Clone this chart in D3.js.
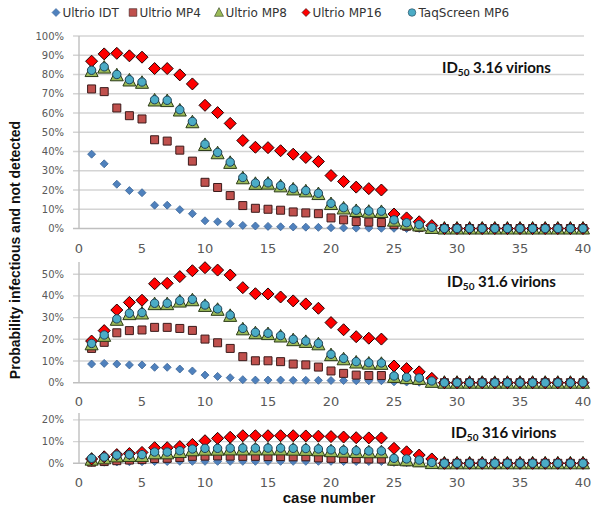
<!DOCTYPE html>
<html><head><meta charset="utf-8">
<script src="https://cdn.jsdelivr.net/npm/d3@7"></script>
<style>body{margin:0;background:#fff}</style></head>
<body><svg id="c" width="601" height="510"></svg>
<script>
const cases = [1,2,3,4,5,6,7,8,9,10,11,12,13,14,15,16,17,18,19,20,21,22,23,24,25,26,27,28,29,30,31,32,33,34,35,36,37,38,39,40];
const seriesNames = ["Ultrio IDT","Ultrio MP4","Ultrio MP8","Ultrio MP16","TaqScreen MP6"];
const xTicks = [0,5,10,15,20,25,30,35,40];
const panelLabels = ["3.16 virions","31.6 virions","316 virions"];
const yTicksA = [0,0.1,0.2,0.3,0.4,0.5,0.6,0.7,0.8,0.9,1.0];
const yTicksB = [0,0.1,0.2,0.3,0.4,0.5];
const yTicksC = [0,0.1,0.2];

// Panel A: ID50 3.16 virions
const IDT_A  = [0.386,0.336,0.230,0.197,0.186,0.121,0.121,0.098,0.077,0.040,0.035,0.025,0.016,0.013,0.011,0.009,0.008,0.007,0.006,0.004,0.003,0.002,0.002,0.001,0.001,0,0,0,0,0,0,0,0,0,0,0,0,0,0,0];
const MP4_A  = [0.725,0.711,0.626,0.586,0.569,0.461,0.454,0.407,0.350,0.240,0.213,0.171,0.119,0.105,0.100,0.095,0.086,0.081,0.077,0.055,0.045,0.036,0.033,0.031,0.020,0.012,0.006,0.002,0,0,0,0,0,0,0,0,0,0,0,0];
const MP8_A  = [0.818,0.836,0.796,0.769,0.757,0.665,0.662,0.613,0.552,0.434,0.391,0.341,0.261,0.232,0.233,0.219,0.203,0.193,0.179,0.127,0.104,0.091,0.087,0.086,0.041,0.026,0.016,0.003,0,0,0,0,0,0,0,0,0,0,0,0];
const MP16_A = [0.869,0.907,0.910,0.897,0.890,0.831,0.831,0.798,0.751,0.640,0.602,0.546,0.457,0.422,0.420,0.404,0.386,0.369,0.348,0.275,0.244,0.215,0.207,0.200,0.075,0.055,0.035,0.015,0,0,0,0,0,0,0,0,0,0,0,0];
const MP6_A  = [0.822,0.840,0.800,0.773,0.761,0.669,0.666,0.617,0.556,0.438,0.395,0.345,0.265,0.236,0.237,0.223,0.207,0.197,0.183,0.131,0.108,0.095,0.091,0.090,0.045,0.030,0.020,0.006,0,0,0,0,0,0,0,0,0,0,0,0];

// Panel B: ID50 31.6 virions
const IDT_B  = [0.086,0.089,0.086,0.082,0.082,0.071,0.071,0.063,0.054,0.035,0.029,0.023,0.014,0.012,0.012,0.012,0.011,0.011,0.011,0.010,0.010,0.009,0.009,0.009,0.004,0.003,0.002,0.001,0,0,0,0,0,0,0,0,0,0,0,0];
const MP4_B  = [0.158,0.186,0.230,0.240,0.243,0.255,0.255,0.250,0.241,0.201,0.184,0.158,0.120,0.101,0.101,0.097,0.086,0.082,0.072,0.054,0.043,0.035,0.033,0.033,0.020,0.015,0.010,0.004,0,0,0,0,0,0,0,0,0,0,0,0];
const MP8_B  = [0.177,0.216,0.290,0.316,0.319,0.362,0.362,0.374,0.380,0.354,0.336,0.308,0.246,0.228,0.224,0.213,0.196,0.188,0.177,0.127,0.108,0.093,0.088,0.087,0.027,0.021,0.018,0.004,0,0,0,0,0,0,0,0,0,0,0,0];
const MP16_B = [0.192,0.240,0.335,0.370,0.380,0.456,0.458,0.489,0.516,0.530,0.519,0.496,0.438,0.410,0.409,0.395,0.377,0.363,0.343,0.277,0.244,0.212,0.205,0.201,0.077,0.065,0.050,0.020,0,0,0,0,0,0,0,0,0,0,0,0];
const MP6_B  = [0.181,0.220,0.294,0.320,0.323,0.366,0.366,0.378,0.384,0.358,0.340,0.312,0.250,0.232,0.228,0.217,0.200,0.192,0.181,0.131,0.112,0.097,0.092,0.091,0.031,0.025,0.022,0.008,0,0,0,0,0,0,0,0,0,0,0,0];

// Panel C: ID50 316 virions
const IDT_C  = [0.004,0.005,0.006,0.007,0.007,0.008,0.008,0.009,0.009,0.009,0.009,0.009,0.009,0.009,0.009,0.009,0.009,0.009,0.009,0.009,0.008,0.008,0.008,0.008,0.004,0.003,0.002,0.001,0,0,0,0,0,0,0,0,0,0,0,0];
const MP4_C  = [0.005,0.008,0.012,0.015,0.017,0.022,0.023,0.027,0.032,0.033,0.034,0.033,0.032,0.032,0.031,0.031,0.030,0.030,0.025,0.023,0.022,0.021,0.020,0.020,0.010,0.007,0.004,0.001,0,0,0,0,0,0,0,0,0,0,0,0];
const MP8_C  = [0.017,0.023,0.032,0.034,0.034,0.046,0.046,0.052,0.060,0.063,0.063,0.064,0.064,0.064,0.064,0.064,0.063,0.062,0.060,0.056,0.054,0.052,0.051,0.051,0.017,0.014,0.009,0.001,0,0,0,0,0,0,0,0,0,0,0,0];
const MP16_C = [0.020,0.030,0.040,0.045,0.050,0.072,0.072,0.077,0.087,0.104,0.115,0.120,0.127,0.127,0.127,0.127,0.127,0.126,0.125,0.123,0.121,0.118,0.117,0.117,0.069,0.053,0.038,0.020,0,0,0,0,0,0,0,0,0,0,0,0];
const MP6_C  = [0.023,0.029,0.038,0.040,0.040,0.052,0.052,0.058,0.066,0.069,0.069,0.070,0.070,0.070,0.070,0.070,0.069,0.068,0.066,0.062,0.060,0.058,0.057,0.057,0.023,0.020,0.015,0.004,0,0,0,0,0,0,0,0,0,0,0,0];

const styles = [
  {shape:"diamond", size:4,   fill:"#4f81bd", stroke:"#3a6597", sw:0.8},
  {shape:"square",  size:4,   fill:"#c0504d", stroke:"#3a1a1a", sw:1},
  {shape:"triangle",size:6.5, fill:"#9bbb59", stroke:"#2a3a16", sw:1},
  {shape:"diamond", size:6,   fill:"#ff0000", stroke:"#200000", sw:1},
  {shape:"circle",  size:4.2, fill:"#4bacc6", stroke:"#1e3f55", sw:1}
];

function markerPath(shape, s){
  if(shape==="diamond") return `M0,${-s}L${s},0L0,${s}L${-s},0Z`;
  if(shape==="square") return `M${-s},${-s}H${s}V${s}H${-s}Z`;
  if(shape==="triangle") return `M0,${-s*1.08}L${s},${s*0.85}L${-s},${s*0.85}Z`;
  if(shape==="circle") return `M${s},0A${s},${s} 0 1,1 ${-s},0A${s},${s} 0 1,1 ${s},0Z`;
}

const svg = d3.select("#c");
const x = d3.scaleLinear().domain([0,40]).range([79,583]);

const panels = [
  {series:[IDT_A,MP4_A,MP8_A,MP16_A,MP6_A], y:d3.scaleLinear().domain([0,1]).range([228.5,36]), ticks:yTicksA, top:1, labX:442, labY:73, xlabY:248},
  {series:[IDT_B,MP4_B,MP8_B,MP16_B,MP6_B], y:d3.scaleLinear().domain([0,0.5]).range([382.7,274.2]), ticks:yTicksB, top:0.556, labX:447, labY:287, xlabY:401},
  {series:[IDT_C,MP4_C,MP8_C,MP16_C,MP6_C], y:d3.scaleLinear().domain([0,0.2]).range([463.3,419.9]), ticks:yTicksC, top:0.232, labX:451, labY:438, xlabY:482}
];

panels.forEach((p,pi)=>{
  const g = svg.append("g");
  g.selectAll("line.grid").data(p.ticks.filter(t=>t>0)).join("line")
    .attr("x1",73).attr("x2",x(40)+1).attr("y1",d=>p.y(d)).attr("y2",d=>p.y(d))
    .attr("stroke","#d4d4d4").attr("stroke-width",1.4);
  g.append("line").attr("x1",73).attr("x2",x(40)+1).attr("y1",p.y(0)).attr("y2",p.y(0))
    .attr("stroke","#bfbfbf").attr("stroke-width",1.4);
  g.append("line").attr("x1",x(0)).attr("x2",x(0)).attr("y1",p.y(p.top)).attr("y2",p.y(0))
    .attr("stroke","#bfbfbf").attr("stroke-width",1.4);
  g.selectAll("text.yt").data(p.ticks).join("text")
    .attr("x",64).attr("y",d=>p.y(d)).attr("dy","0.35em").attr("text-anchor","end")
    .attr("font-family","DejaVu Sans").attr("font-size",10).attr("fill","#595959")
    .text(d=>d3.format(".0%")(d));
  g.selectAll("text.xt").data(xTicks).join("text")
    .attr("x",d=>x(d)).attr("y",p.xlabY).attr("dy","0.35em").attr("text-anchor","middle")
    .attr("font-family","DejaVu Sans").attr("font-size",13).attr("fill","#595959")
    .text(d=>d);
  const t = g.append("text").attr("x",p.labX).attr("y",p.labY)
    .attr("font-family","Lato").attr("font-weight","bold").attr("font-size",15).attr("fill","#111");
  t.append("tspan").text("ID");
  t.append("tspan").attr("font-size",10).attr("dy",3).text("50");
  t.append("tspan").attr("dy",-3).text(" " + panelLabels[pi]);
  p.series.forEach((vals,si)=>{
    const st = styles[si];
    g.append("g").selectAll("path").data(cases.map((c,i)=>({c, v:vals[i]}))).join("path")
      .attr("transform",d=>`translate(${x(d.c)},${p.y(d.v)})`)
      .attr("d",markerPath(st.shape, st.size))
      .attr("fill",st.fill).attr("stroke",st.stroke).attr("stroke-width",st.sw);
  });
});

const legX = [56,133,219,306,412];
const lg = svg.append("g");
seriesNames.forEach((n,i)=>{
  const st = styles[i];
  const s = st.shape==="diamond" ? 4 : (st.shape==="triangle" ? 4.5 : 3.8);
  lg.append("path").attr("transform",`translate(${legX[i]},12.5)`).attr("d",markerPath(st.shape,s))
    .attr("fill",st.fill).attr("stroke",st.stroke).attr("stroke-width",0.6);
  lg.append("text").attr("x",legX[i]+6.5).attr("y",12.5).attr("dy","0.35em")
    .attr("font-family","DejaVu Sans").attr("font-size",12).attr("fill","#333").text(n);
});

svg.append("text").attr("transform","translate(20,250) rotate(-90)").attr("text-anchor","middle")
  .attr("font-family","Liberation Sans").attr("font-weight","bold").attr("font-size",14).attr("fill","#111")
  .text("Probability  infectious and not detected");
svg.append("text").attr("x",329).attr("y",503).attr("text-anchor","middle")
  .attr("font-family","Liberation Sans").attr("font-weight","bold").attr("font-size",15).attr("fill","#111")
  .text("case number");
</script></body></html>
